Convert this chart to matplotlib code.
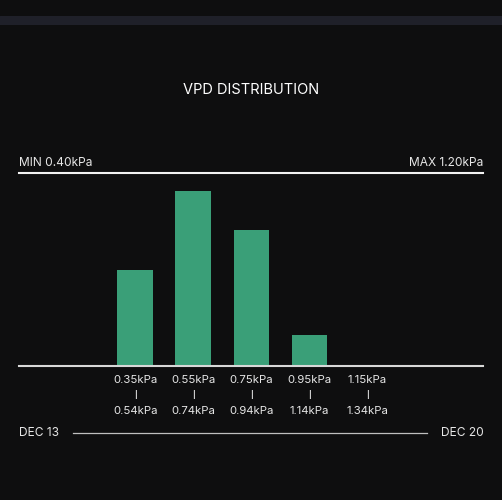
import matplotlib.pyplot as plt

plt.rcParams['font.family'] = ['Inter', 'DejaVu Sans']

bins_lo = ['0.35kPa', '0.55kPa', '0.75kPa', '0.95kPa', '1.15kPa']
bins_hi = ['0.54kPa', '0.74kPa', '0.94kPa', '1.14kPa', '1.34kPa']
share = [22.0, 40.0, 31.0, 7.0, 0.3]
min_label = 'MIN 0.40kPa'
max_label = 'MAX 1.20kPa'
start_date = 'DEC 13'
end_date = 'DEC 20'

bg = '#0e0e0f'
bar_color = '#3a9f78'
txt = '#e6e6e6'

fig = plt.figure(figsize=(5.025, 5.0), dpi=100, facecolor=bg)

# top band
band = fig.add_axes([0, 1 - 25 / 500, 1, 9 / 500])
band.axis('off')
band.add_patch(plt.Rectangle((0, 0), 1, 1, color='#1f2029', transform=band.transAxes))

fig.text(0.5, 1 - 90 / 500, 'VPD DISTRIBUTION', color='white', fontsize=10.5,
         ha='center', va='center')

ax = fig.add_axes([19 / 502, 134 / 500, 464 / 502, 193 / 500])
ax.set_facecolor(bg)
xs = [2, 3, 4, 5, 6]
ax.bar(xs, share, width=0.61, color=bar_color)
ax.set_xlim(0, 8)
ax.set_ylim(0, 44)
ax.axhline(44, color='#f2f2f2', lw=1.5, clip_on=False)
ax.axhline(0, color='#d8d8d8', lw=1.5, clip_on=False)
for s in ax.spines.values():
    s.set_visible(False)
ax.set_xticks([])
ax.set_yticks([])

ax.text(0, 44 + 1.0, min_label, color=txt, fontsize=8.6, ha='left', va='bottom')
ax.text(8, 44 + 1.0, max_label, color=txt, fontsize=8.6, ha='right', va='bottom')

for x, lo, hi in zip(xs, bins_lo, bins_hi):
    ax.text(x, -3.1, lo, color=txt, fontsize=8.2, ha='center', va='center')
    ax.text(x, -6.6, '|', color=txt, fontsize=5.5, ha='center', va='center',
            fontweight='bold')
    ax.text(x, -10.3, hi, color=txt, fontsize=8.2, ha='center', va='center')

y_date = 1 - 433 / 500
fig.text(19 / 502, y_date, start_date, color=txt, fontsize=8.6, ha='left', va='center')
fig.text(483 / 502, y_date, end_date, color=txt, fontsize=8.6, ha='right', va='center')
fig.add_artist(plt.Line2D([73 / 502, 427 / 502], [y_date, y_date], color='#bfbfbf',
                          lw=0.9, transform=fig.transFigure))

fig.savefig('out.png', dpi=100, facecolor=bg)
